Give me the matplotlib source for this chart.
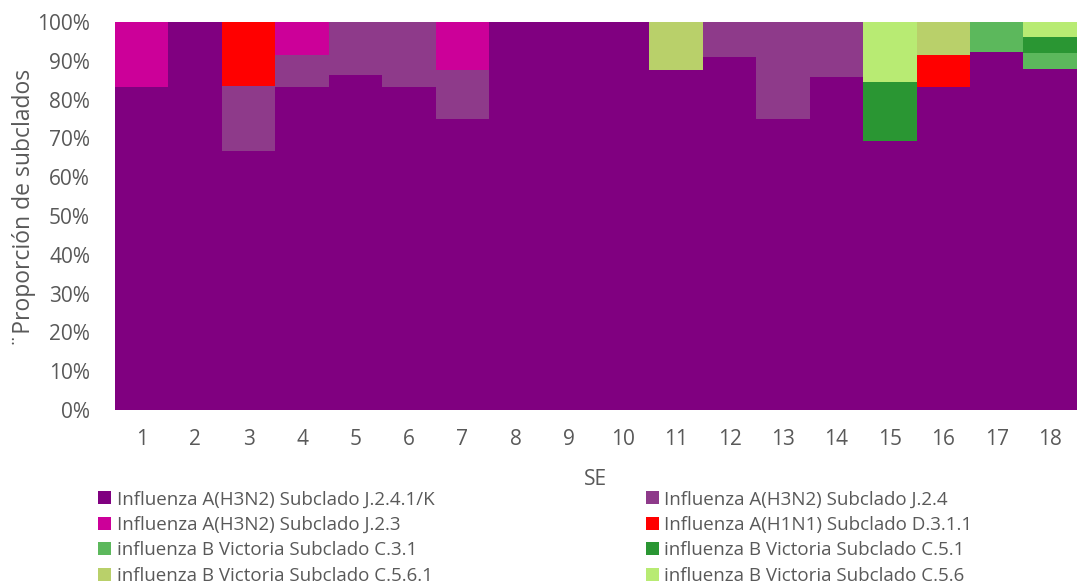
import matplotlib.pyplot as plt
import numpy as np

plt.rcParams['font.family'] = ['Open Sans', 'DejaVu Sans']

# Semanas epidemiológicas
semanas = [str(i) for i in range(1, 19)]

# Proporción (%) de cada subclado por semana
j2_4_1_k = [83.3, 100, 66.7, 83.3, 86.4, 83.3, 75.0, 100, 100, 100, 87.5, 90.9, 75.0, 85.7, 69.2, 83.3, 92.3, 88.0]
j2_4 = [0, 0, 16.7, 8.3, 13.6, 16.7, 12.5, 0, 0, 0, 0, 9.1, 25.0, 14.3, 0, 0, 0, 0]
j2_3 = [16.7, 0, 0, 8.3, 0, 0, 12.5, 0, 0, 0, 0, 0, 0, 0, 0, 0, 0, 0]
d3_1_1 = [0, 0, 16.7, 0, 0, 0, 0, 0, 0, 0, 0, 0, 0, 0, 0, 8.3, 0, 0]
c3_1 = [0, 0, 0, 0, 0, 0, 0, 0, 0, 0, 0, 0, 0, 0, 0, 0, 7.7, 4.0]
c5_1 = [0, 0, 0, 0, 0, 0, 0, 0, 0, 0, 0, 0, 0, 0, 15.4, 0, 0, 4.0]
c5_6_1 = [0, 0, 0, 0, 0, 0, 0, 0, 0, 0, 12.5, 0, 0, 0, 0, 8.3, 0, 0]
c5_6 = [0, 0, 0, 0, 0, 0, 0, 0, 0, 0, 0, 0, 0, 0, 15.4, 0, 0, 4.0]

series = [
    ("Influenza A(H3N2) Subclado J.2.4.1/K", j2_4_1_k, "#800080"),
    ("Influenza A(H3N2) Subclado J.2.4", j2_4, "#8E3A8A"),
    ("Influenza A(H3N2) Subclado J.2.3", j2_3, "#CC0099"),
    ("Influenza A(H1N1) Subclado D.3.1.1", d3_1_1, "#FF0000"),
    ("influenza B Victoria Subclado C.3.1", c3_1, "#5CB85C"),
    ("influenza B Victoria Subclado C.5.1", c5_1, "#2A9633"),
    ("influenza B Victoria Subclado C.5.6.1", c5_6_1, "#B9D06A"),
    ("influenza B Victoria Subclado C.5.6", c5_6, "#B8EB73"),
]

gris = "#595959"

fig = plt.figure(figsize=(10.78, 5.88), dpi=100)
ax = fig.add_axes([0.1067, 0.3027, 0.8923, 0.66])

x = np.arange(len(semanas))
base = np.zeros(len(semanas))
handles = []
for nombre, vals, color in series:
    vals = np.array(vals, dtype=float)
    b = ax.bar(x, vals, bottom=base, width=1.0, color=color, label=nombre, linewidth=0)
    handles.append(b)
    base += vals

ax.set_xlim(-0.5, len(semanas) - 0.5)
ax.set_ylim(0, 100)
ax.set_yticks(np.arange(0, 101, 10))
ax.set_yticklabels([f"{v}%" for v in range(0, 101, 10)])
ax.set_xticks(x)
ax.set_xticklabels(semanas)
ax.tick_params(length=0, labelsize=15, colors=gris)
ax.tick_params(axis='y', pad=18)
ax.tick_params(axis='x', pad=14)
for s in ax.spines.values():
    s.set_visible(False)

ax.set_xlabel("SE", fontsize=15, color=gris, labelpad=13)
ax.set_ylabel("¨Proporción de subclados", fontsize=16.5, color=gris)
ax.yaxis.set_label_coords(-0.082, 0.52)

# Leyenda en dos columnas
izq = [0, 2, 4, 6]
der = [1, 3, 5, 7]
leg_kw = dict(frameon=False, fontsize=13.5, labelcolor=gris, handlelength=0.7, handleheight=0.7,
              handletextpad=0.3, labelspacing=0.4, borderaxespad=0, borderpad=0)
fig.legend([handles[i] for i in izq], [series[i][0] for i in izq], loc='upper left',
           bbox_to_anchor=(0.091, 0.166), **leg_kw)
fig.legend([handles[i] for i in der], [series[i][0] for i in der], loc='upper left',
           bbox_to_anchor=(0.599, 0.166), **leg_kw)

fig.savefig("out.png", dpi=100)
